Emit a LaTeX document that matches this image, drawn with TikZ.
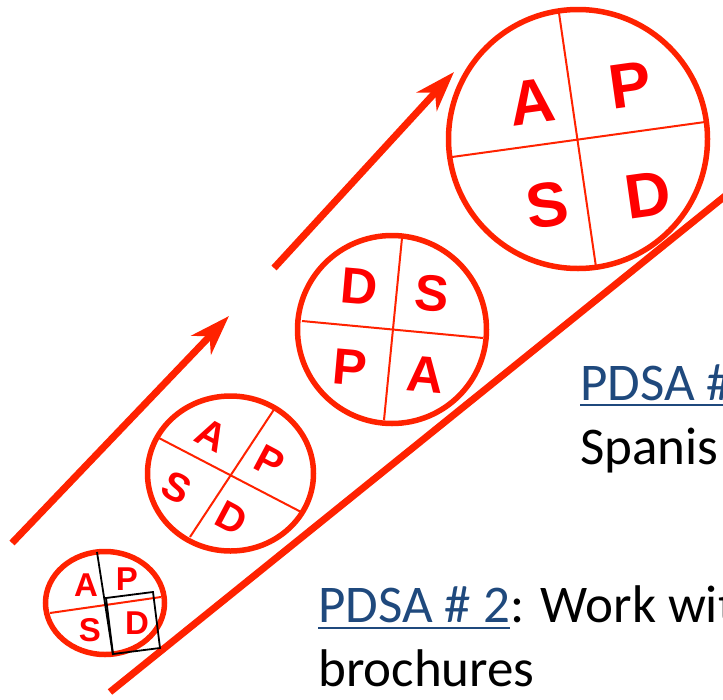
\documentclass[tikz,border=0pt]{standalone}
\usepackage{fontspec}
\usetikzlibrary{arrows.meta,shapes.geometric}
\newfontfamily\capsfont{Liberation Sans}
\newfontfamily\notefont{Carlito}
\definecolor{cyclered}{RGB}{255,34,0}
\definecolor{letterred}{RGB}{255,0,0}
\definecolor{notelink}{RGB}{31,73,125}
\tikzset{
  ring/.style={draw=cyclered, line width=5.5pt, ellipse, inner sep=0pt},
  divider/.style={draw=cyclered, line width=2pt},
  marker/.style={draw=black, line width=1.8pt},
  ltr/.style={text=letterred, inner sep=0pt,
    font=\capsfont\bfseries\fontsize{#1}{#1}\selectfont},
  flow/.style={draw=cyclered, line width=7pt,
    -{Stealth[length=40pt,width=27pt,inset=12pt]}},
  track/.style={draw=cyclered, line width=7pt},
  note/.style={inner sep=0pt, anchor=base west,
    font=\notefont\fontsize{53}{64}\selectfont},
  rule/.style={draw=notelink, line width=2.6pt},
}
\begin{document}
\begin{tikzpicture}[x=1pt,y=-1pt]
\useasboundingbox (0,0) rectangle (723,699);

% progress arrows and the rising track
\coordinate (a1s) at (12,543);  \coordinate (a1e) at (229,316);
\coordinate (a2s) at (274,268); \coordinate (a2e) at (454,72);
\coordinate (t1) at (110,692);  \coordinate (t2) at (735,188);
\draw[flow] (a1s) -- (a1e);
\draw[flow] (a2s) -- (a2e);
\draw[track] (t1) -- (t2);

% cycle 1 (smallest)
\node[ring, minimum width=119pt, minimum height=103pt] (c1) at (105,603) {};
\coordinate (c1h1) at (50,613);  \coordinate (c1h2) at (161,597);
\coordinate (c1v1) at (97,552);  \coordinate (c1v2) at (113,655);
\draw[divider] (c1h1) -- (c1h2);
\draw[marker] (c1v1) -- (c1v2);
\node[ltr=33] (c1A) at (86,585) {A};
\node[ltr=33] (c1P) at (127,579) {P};
\node[ltr=33] (c1S) at (90,630) {S};
\node[ltr=33] (c1D) at (137,623) {D};
\coordinate (b1) at (106,598); \coordinate (b2) at (153,592);
\coordinate (b3) at (160,648); \coordinate (b4) at (113,654);
\draw[marker] (b1) -- (b2) -- (b3) -- (b4) -- cycle;

% cycle 2
\node[ring, minimum width=166pt, minimum height=155pt] (c2) at (230.5,473.5) {};
\coordinate (c2h1) at (157,437); \coordinate (c2h2) at (303,513);
\coordinate (c2v1) at (275,408); \coordinate (c2v2) at (190,537);
\draw[divider] (c2h1) -- (c2h2);
\draw[divider] (c2v1) -- (c2v2);
\node[ltr=40, rotate=-28] (c2A) at (212,435) {A};
\node[ltr=40, rotate=-28] (c2P) at (270,462) {P};
\node[ltr=40, rotate=-28] (c2S) at (177,488) {S};
\node[ltr=40, rotate=-28] (c2D) at (232,518) {D};

% cycle 3
\node[ring, minimum width=189pt, minimum height=188pt] (c3) at (392,329.5) {};
\coordinate (c3v1) at (402,238); \coordinate (c3v2) at (384,420);
\coordinate (c3h1) at (302,321); \coordinate (c3h2) at (483,338);
\draw[divider] (c3v1) -- (c3v2);
\draw[divider] (c3h1) -- (c3h2);
\node[ltr=51, rotate=-5] (c3D) at (359,287) {D};
\node[ltr=51, rotate=-5] (c3S) at (432,293) {S};
\node[ltr=51, rotate=-5] (c3P) at (350,367) {P};
\node[ltr=51, rotate=-5] (c3A) at (425,375) {A};

% cycle 4 (largest)
\node[ring, minimum width=259pt, minimum height=259pt] (c4) at (578,139) {};
\coordinate (c4v1) at (559,13);  \coordinate (c4v2) at (596,267);
\coordinate (c4h1) at (452,157); \coordinate (c4h2) at (705,122);
\draw[divider] (c4v1) -- (c4v2);
\draw[divider] (c4h1) -- (c4h2);
\node[ltr=63, rotate=8] (c4A) at (532,102) {A};
\node[ltr=63, rotate=8] (c4P) at (630,85) {P};
\node[ltr=63, rotate=8] (c4S) at (547,205) {S};
\node[ltr=63, rotate=8] (c4D) at (648,195) {D};

% notes
\node[note, text=notelink] (n3) at (580,400) {PDSA \#};
\coordinate (n3r) at (740,400);
\draw[rule] ([yshift=-5pt]n3.base west) -- ([yshift=-5pt]n3r);
\node[note] (n3b) at (580,464) {Spanis};

\node[note, text=notelink] (n2) at (318,622) {PDSA \# 2};
\node[note] (n2r) at (n2.base east) {: Work with};
\draw[rule] ([yshift=-6pt]n2.base west) -- ([yshift=-6pt]n2.base east);
\node[note] (n2b) at (318,686) {brochures};
\end{tikzpicture}
\end{document}
